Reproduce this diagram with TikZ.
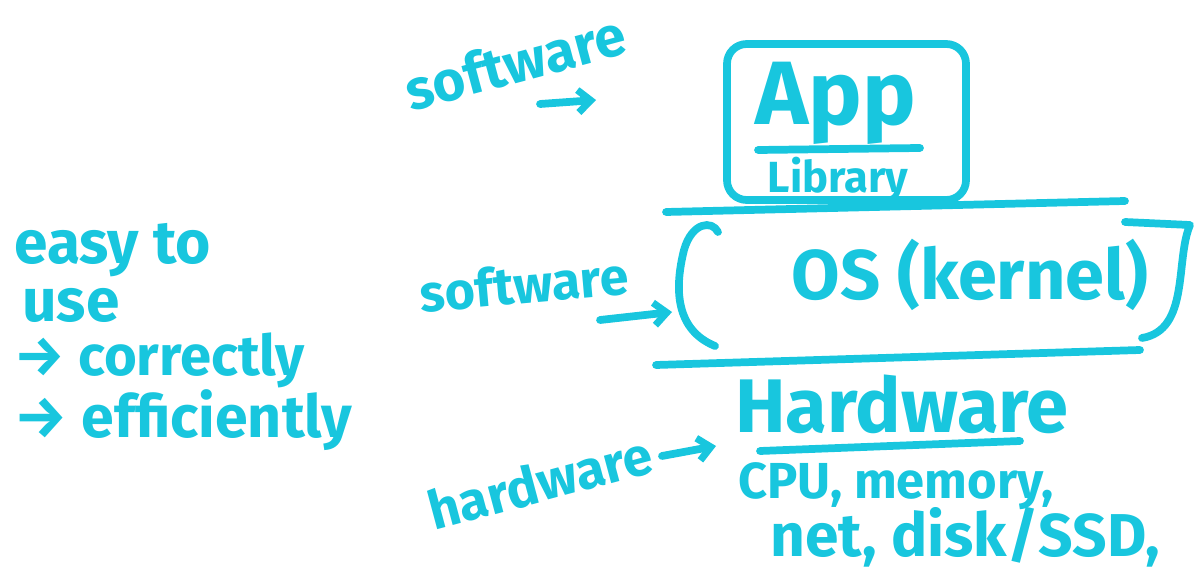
\documentclass[tikz,border=0pt]{standalone}
\usepackage{fontspec}
\setmainfont{Fira Sans}
\usepackage{tikz}
\usetikzlibrary{positioning, arrows.meta}
\definecolor{ink}{RGB}{24,198,222}

\begin{document}
\begin{tikzpicture}[
		x=0.025cm,
		y=-0.025cm,
		ink/.style={draw=ink, line width=5.5pt, line cap=round, line join=round},
		arr/.style={ink, -{Straight Barb[length=9pt, width=16pt, line width=5pt]}},
		txt/.style={text=ink, inner sep=0pt, font=\bfseries},
		sz/.style={font=\bfseries\fontsize{#1}{#1}\selectfont}
		]
		\useasboundingbox (0,0) rectangle (1199,577);
		
		% Left notes
		\node[txt, sz=43, anchor=west] (easy) at (14,250) {easy to};
		\node[txt, sz=43, anchor=west] (use) at (22,305) {use};
		\node[txt, sz=40, anchor=west] (corr) at (14,360) {→ correctly};
		\node[txt, sz=42, anchor=west] (effi) at (14,420) {→ efficiently};
		
		% App layer
		\draw[ink, rounded corners=14pt] (727,44) rectangle (966,200);
		\node[txt, sz=64] (app) at (836,103) {App};
		\draw[ink] (758,150) -- (920,148);
		\node[txt, sz=31] (lib) at (838,180) {Library};
		\node[txt, sz=40, rotate=15] (sw1) at (515,62) {software};
		\coordinate (a1s) at (540,104);
		\coordinate (a1e) at (596,100);
		\draw[arr] (a1s) -- (a1e);
		
		\draw[ink] (666,212) -- (1125,201);
		
		% OS layer
		\draw[ink] (718,232) .. controls (712,220) and (692,222) .. (684,250)
			.. controls (674,290) and (676,330) .. (715,346);
		\draw[ink] (1125,222) -- (1190,225) .. controls (1175,260) and (1190,330) .. (1142,338);
		\node[txt, sz=50] (os) at (970,275) {OS (kernel)};
		\node[txt, sz=37, rotate=5] (sw2) at (524,284) {software};
		\coordinate (a2s) at (600,320);
		\coordinate (a2e) at (672,312);
		\draw[arr] (a2s) -- (a2e);
		
		\draw[ink] (656,365) -- (1140,350);
		
		% Hardware layer
		\node[txt, sz=54] (hw) at (902,404) {Hardware};
		\draw[ink] (760,451) -- (1020,441);
		\node[txt, sz=38, rotate=15] (hw2) at (540,482) {hardware};
		\coordinate (a3s) at (662,456);
		\coordinate (a3e) at (716,446);
		\draw[arr] (a3s) -- (a3e);
		\node[txt, sz=36] (cpu) at (896,486) {CPU, memory,};
		\node[txt, sz=43] (net) at (965,537) {net, disk/SSD,};
	\end{tikzpicture}
\end{document}
